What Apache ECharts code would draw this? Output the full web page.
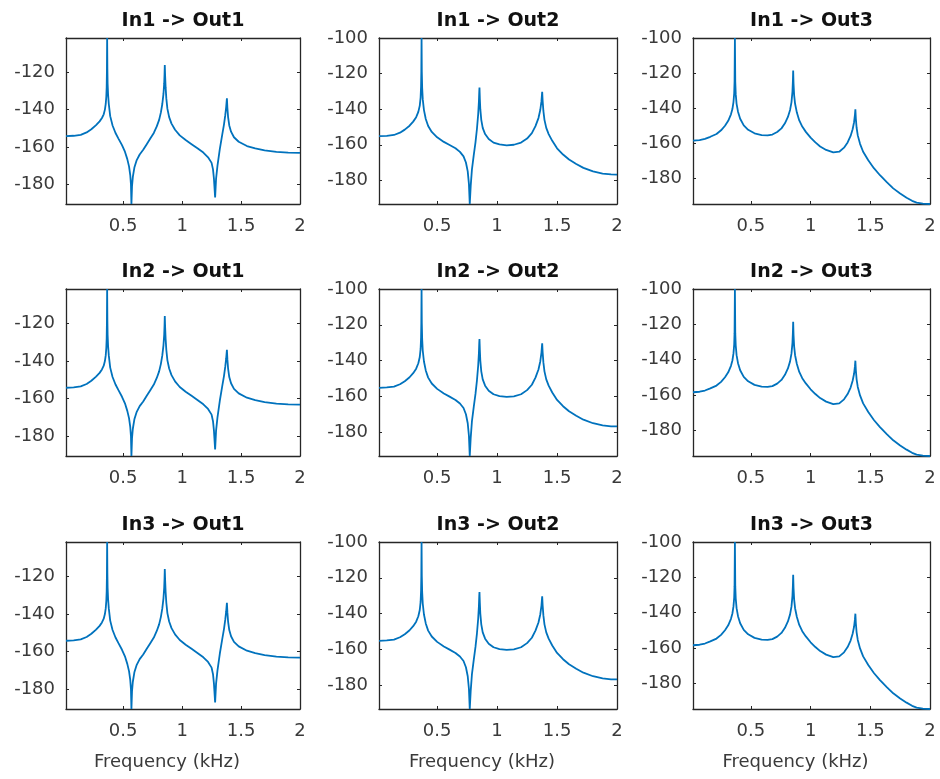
<!DOCTYPE html>
<html><head><meta charset="utf-8">
<script src="https://cdn.jsdelivr.net/npm/echarts@6/dist/echarts.min.js"></script>
<style>html,body{margin:0;padding:0;background:#fff}#c{width:940px;height:779px}</style>
</head><body><div id="c"></div>
<script>
// ---- data ----
const inputs = ['In1', 'In2', 'In3'];
const outputs = ['Out1', 'Out2', 'Out3'];

const freqOut1 = [0.015, 0.08, 0.14, 0.19, 0.23, 0.27, 0.3, 0.32, 0.335, 0.345, 0.352, 0.357, 0.36, 0.362, 0.364, 0.366, 0.368, 0.372, 0.378, 0.39, 0.41, 0.435, 0.46, 0.49, 0.515, 0.535, 0.55, 0.56, 0.566, 0.57, 0.575, 0.582, 0.595, 0.615, 0.64, 0.67, 0.7, 0.73, 0.76, 0.785, 0.805, 0.82, 0.832, 0.842, 0.848, 0.851, 0.853, 0.856, 0.86, 0.866, 0.875, 0.89, 0.91, 0.94, 0.98, 1.03, 1.08, 1.13, 1.18, 1.22, 1.25, 1.262, 1.27, 1.28, 1.288, 1.3, 1.32, 1.34, 1.355, 1.366, 1.374, 1.38, 1.384, 1.39, 1.4, 1.415, 1.44, 1.48, 1.55, 1.62, 1.7, 1.8, 1.9, 2.0];
const magOut1 = [-154.2, -154, -153.5, -152.2, -150.5, -148.3, -146.3, -144.5, -142.5, -140, -137, -133, -128, -120, -101.7, -118, -126, -132, -137, -143.5, -148.5, -152.5, -155.5, -159, -162.5, -166.5, -170.5, -175, -180, -190.5, -181, -176, -171, -167, -164, -161.5, -158.5, -155.5, -152.5, -149, -145.5, -141.5, -137, -131.5, -126, -121, -116.1, -122, -128, -134, -139.5, -144, -147.5, -150.8, -153.8, -156.3, -158.5, -160.7, -163, -165.5, -168.5, -172, -177, -187, -177, -170, -161, -153.5, -148, -143, -138.5, -134, -139, -144, -148.5, -151.8, -154.8, -157.2, -159.5, -160.8, -161.8, -162.6, -163, -163.2];

const freqOut2 = [0.015, 0.08, 0.14, 0.19, 0.23, 0.27, 0.3, 0.325, 0.343, 0.355, 0.362, 0.366, 0.368, 0.37, 0.372, 0.375, 0.38, 0.39, 0.405, 0.425, 0.455, 0.5, 0.556, 0.6, 0.653, 0.69, 0.72, 0.74, 0.755, 0.765, 0.772, 0.78, 0.79, 0.805, 0.82, 0.832, 0.842, 0.848, 0.851, 0.853, 0.856, 0.86, 0.868, 0.88, 0.9, 0.93, 0.97, 1.02, 1.08, 1.14, 1.2, 1.25, 1.29, 1.32, 1.345, 1.36, 1.37, 1.376, 1.38, 1.386, 1.395, 1.41, 1.43, 1.46, 1.5, 1.55, 1.6, 1.66, 1.72, 1.8, 1.88, 1.95, 2.0];
const magOut2 = [-155.2, -155, -154.5, -153.2, -151.5, -149.3, -147, -144.5, -141.5, -138, -133.5, -127, -119, -100, -119, -128, -134.5, -140.5, -145.5, -149.5, -152.8, -155.8, -158.4, -160, -162, -164, -166.5, -170, -175, -182, -193.3, -183, -174, -166, -158.5, -151, -143, -136, -130.5, -127.9, -134, -140, -146, -150.5, -154, -156.8, -158.8, -159.8, -160.3, -160, -158.8, -156.5, -153.5, -149.5, -145, -140.5, -135.5, -130.3, -135.5, -141, -146, -150.5, -154, -157.8, -162, -165.5, -168.3, -170.8, -173, -175, -176.2, -176.7, -176.8];

const freqOut3 = [0.015, 0.07, 0.115, 0.16, 0.212, 0.25, 0.283, 0.31, 0.333, 0.345, 0.354, 0.36, 0.363, 0.366, 0.369, 0.373, 0.38, 0.392, 0.41, 0.44, 0.477, 0.53, 0.59, 0.64, 0.68, 0.72, 0.756, 0.785, 0.81, 0.828, 0.84, 0.848, 0.852, 0.854, 0.857, 0.862, 0.87, 0.885, 0.905, 0.93, 0.96, 1.0, 1.04, 1.08, 1.13, 1.19, 1.24, 1.28, 1.31, 1.335, 1.352, 1.364, 1.371, 1.375, 1.379, 1.385, 1.395, 1.414, 1.44, 1.483, 1.53, 1.581, 1.64, 1.692, 1.75, 1.804, 1.85, 1.888, 1.94, 2.0];
const magOut3 = [-158.5, -158.2, -157.5, -156.3, -154.7, -152.6, -150, -147.2, -143.5, -140.5, -136.5, -131.5, -125, -100, -125, -132, -137.5, -142, -146, -149.8, -152.3, -154.3, -155.3, -155.5, -155, -153.6, -151.5, -148.6, -145, -141, -136.5, -130.5, -124, -118.6, -126, -132.5, -137.5, -142.5, -147, -150.5, -153.5, -156.8, -159.5, -161.8, -163.8, -165.2, -164.8, -162.5, -159.5, -155.8, -152, -148, -144, -140.6, -146, -151, -155.5, -160.3, -164.8, -169.7, -174.2, -178.2, -182.3, -185.7, -188.6, -191, -192.8, -193.8, -194.4, -194.6];

const xTicks = [0.5, 1, 1.5, 2];
const xRange = [0.015, 2];
const yTicksOut1 = [-180, -160, -140, -120];
const yTicksOut2 = [-180, -160, -140, -120, -100];
const yTicksOut3 = [-180, -160, -140, -120, -100];
const yRangeOut1 = [-190.5, -101.7];
const yRangeOut2 = [-193.3, -100];
const yRangeOut3 = [-194.6, -100];
const xLabel = 'Frequency (kHz)';

// ---- layout / style ----
const colFreq = [freqOut1, freqOut2, freqOut3];
const colMag = [magOut1, magOut2, magOut3];
const colYTicks = [yTicksOut1, yTicksOut2, yTicksOut3];
const colYRange = [yRangeOut1, yRangeOut2, yRangeOut3];

const colLeft = [66, 379, 693];
const colWidth = [234, 238, 237];
const rowTop = [38, 289, 542];
const rowHeight = [166, 167, 167];

const FONT = 'DejaVu Sans';
const axisColor = '#262626';
const labelColor = '#3a3a3a';
const lineColor = '#0072BD';

const grids = [], xAxes = [], yAxes = [], series = [], titles = [];
for (let r = 0; r < 3; r++) {
  for (let c = 0; c < 3; c++) {
    const i = r * 3 + c;
    grids.push({left: colLeft[c], top: rowTop[r], width: colWidth[c], height: rowHeight[r], containLabel: false});
    titles.push({
      text: inputs[r] + ' -> ' + outputs[c],
      left: colLeft[c] + colWidth[c] / 2,
      top: rowTop[r] - 17,
      textAlign: 'center',
      textVerticalAlign: 'middle',
      padding: 0,
      textStyle: {fontFamily: FONT, fontSize: 19, fontWeight: 'bold', color: '#111'}
    });
    if (r === 2) {
      titles.push({
        text: xLabel,
        left: colLeft[c] + colWidth[c] / 2 - 16,
        top: 762,
        textAlign: 'center',
        textVerticalAlign: 'middle',
        padding: 0,
        textStyle: {fontFamily: FONT, fontSize: 18, fontWeight: 'normal', color: labelColor}
      });
    }
    const axLine = {show: true, lineStyle: {color: axisColor, width: 1.3}};
    const tick = (vals) => ({show: true, inside: true, length: 3, customValues: vals, lineStyle: {color: axisColor, width: 1}});
    xAxes.push({
      type: 'value', gridIndex: i, position: 'bottom', min: xRange[0], max: xRange[1],
      axisLine: axLine, axisTick: tick(xTicks), splitLine: {show: false},
      axisLabel: {customValues: xTicks, margin: 13, fontFamily: FONT, fontSize: 18, color: labelColor}
    });
    xAxes.push({
      type: 'value', gridIndex: i, position: 'top', min: xRange[0], max: xRange[1],
      axisLine: axLine, axisTick: tick(xTicks), splitLine: {show: false}, axisLabel: {show: false}
    });
    yAxes.push({
      type: 'value', gridIndex: i, position: 'left', min: colYRange[c][0], max: colYRange[c][1],
      axisLine: axLine, axisTick: tick(colYTicks[c]), splitLine: {show: false},
      axisLabel: {customValues: colYTicks[c], margin: 11, fontFamily: FONT, fontSize: 18, color: labelColor}
    });
    yAxes.push({
      type: 'value', gridIndex: i, position: 'right', min: colYRange[c][0], max: colYRange[c][1],
      axisLine: axLine, axisTick: tick(colYTicks[c]), splitLine: {show: false}, axisLabel: {show: false}
    });
    series.push({
      type: 'line', xAxisIndex: 2 * i, yAxisIndex: 2 * i,
      data: colFreq[c].map((f, k) => [f, colMag[c][k]]),
      showSymbol: false, symbol: 'none', clip: true, silent: true,
      lineStyle: {color: lineColor, width: 1.8}
    });
  }
}

const chart = echarts.init(document.getElementById('c'), null, {renderer: 'canvas'});
chart.setOption({
  animation: false,
  backgroundColor: '#fff',
  title: titles,
  grid: grids,
  xAxis: xAxes,
  yAxis: yAxes,
  series: series
});
</script>
</body></html>
